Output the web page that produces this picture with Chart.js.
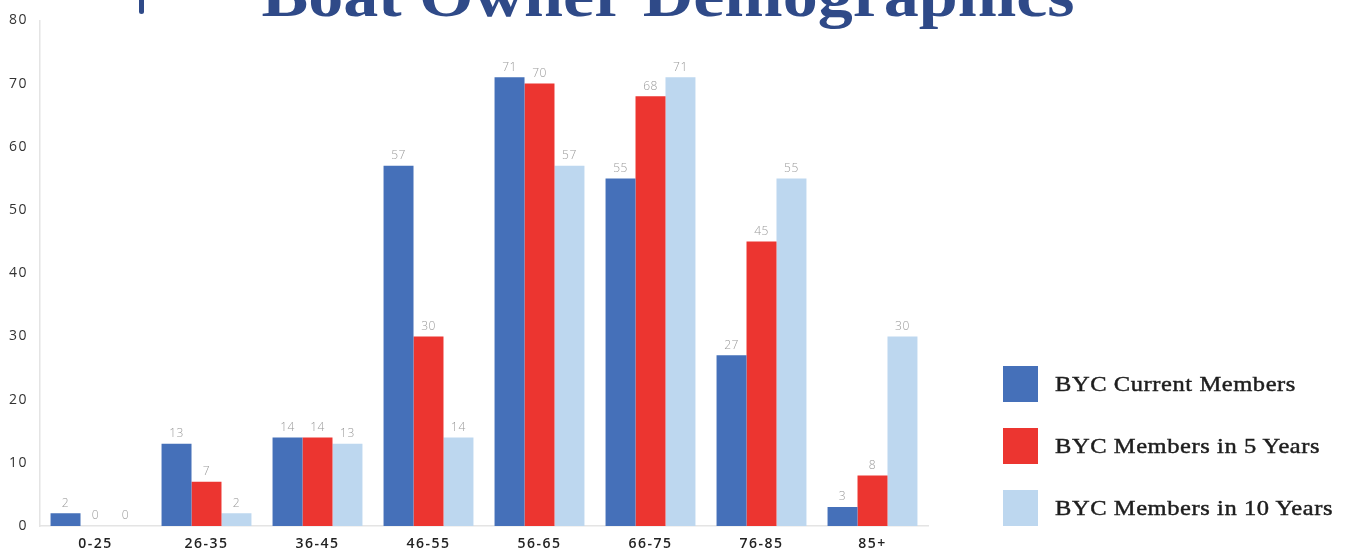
<!DOCTYPE html>
<html>
<head>
<meta charset="utf-8">
<script src="https://cdn.jsdelivr.net/npm/chart.js@4"></script>
<style>
  html, body { margin: 0; padding: 0; background: #fff; }
  #wrap { position: relative; width: 1347px; height: 557px; overflow: hidden; }
  #legend { position: absolute; left: 1003px; top: 366px; margin: 0; padding: 0; list-style: none; }
  #legend li { display: flex; align-items: center; height: 36px; margin-bottom: 26px; }
  #legend .box { width: 35px; height: 36px; margin-right: 17px; flex: none; }
  #legend .txt { display: inline-block; white-space: nowrap; transform-origin: left center;
                 font-family: "Liberation Serif", serif; font-size: 21px; color: #1e1e1e;
                 letter-spacing: 0.5px; -webkit-text-stroke: 0.45px #1e1e1e; }
</style>
</head>
<body>
<div id="wrap">
  <canvas id="chartDemografia" width="1347" height="557"></canvas>
  <ul id="legend"></ul>
</div>
<script>
// Dados
const categorias = ['0-25', '26-35', '36-45', '46-55', '56-65', '66-75', '76-85', '85+'];
const membrosAtuais = [2, 13, 14, 57, 71, 55, 27, 3];
const membros5Anos = [0, 7, 14, 30, 70, 68, 45, 8];
const membros10Anos = [0, 2, 13, 14, 57, 71, 55, 30];
const nomesSeries = ['BYC Current Members', 'BYC Members in 5 Years', 'BYC Members in 10 Years'];
const ticksY = [0, 10, 20, 30, 40, 50, 60, 70, 80];
const titulo = 'Boat Owner Demographics';

const cores = ['#4570b9', '#ec3530', '#bdd7ef'];
const corTitulo = '#2f4a88';

// Título cortado no topo + marca decorativa
const tituloPlugin = {
    id: 'tituloPlugin',
    afterDraw(chart) {
        const ctx = chart.ctx;
        ctx.save();
        ctx.letterSpacing = '0px';
        ctx.fillStyle = corTitulo;
        ctx.font = 'bold 62px "Liberation Serif"';
        ctx.textBaseline = 'alphabetic';
        ctx.textAlign = 'center';
        const w = ctx.measureText(titulo).width;
        const sx = 813 / w;
        ctx.translate(668, 16);
        ctx.scale(sx, 1);
        ctx.fillText(titulo, 0, 0);
        ctx.restore();

        ctx.save();
        ctx.fillStyle = corTitulo;
        ctx.beginPath();
        ctx.roundRect(139, -6, 5, 20, 2.5);
        ctx.fill();
        ctx.restore();
    }
};

// Rótulos de valor acima das barras
const rotulosPlugin = {
    id: 'rotulosPlugin',
    beforeDraw(chart) {
        chart.ctx.letterSpacing = '1.5px';
    },
    beforeDatasetsDraw(chart) {
        chart.ctx.letterSpacing = '0px';
    },
    afterDatasetsDraw(chart) {
        const ctx = chart.ctx;
        ctx.save();
        ctx.letterSpacing = '0.5px';
        ctx.font = '300 12px "Open Sans"';
        ctx.fillStyle = '#9a9a9a';
        ctx.textAlign = 'center';
        ctx.textBaseline = 'bottom';
        chart.data.datasets.forEach((ds, i) => {
            const meta = chart.getDatasetMeta(i);
            meta.data.forEach((bar, j) => {
                ctx.fillText(String(ds.data[j]), bar.x, bar.y - 4);
            });
        });
        ctx.restore();
    }
};

const ctx = document.getElementById('chartDemografia').getContext('2d');

const grafico = new Chart(ctx, {
    type: 'bar',
    data: {
        labels: categorias,
        datasets: [
            { label: nomesSeries[0], data: membrosAtuais, backgroundColor: cores[0] },
            { label: nomesSeries[1], data: membros5Anos, backgroundColor: cores[1] },
            { label: nomesSeries[2], data: membros10Anos, backgroundColor: cores[2] }
        ]
    },
    options: {
        responsive: false,
        animation: false,
        datasets: {
            bar: { barPercentage: 1.0, categoryPercentage: 0.81 }
        },
        layout: {
            padding: { top: 16, right: 419, left: 0, bottom: 0 }
        },
        plugins: {
            legend: { display: false },
            tooltip: { enabled: false }
        },
        scales: {
            y: {
                min: 0,
                max: 80,
                afterFit(scale) { scale.width = 40; },
                afterBuildTicks(scale) { scale.ticks = ticksY.map(v => ({ value: v })); },
                grid: { display: false, drawTicks: false },
                border: { color: '#e4e4e4', width: 1.5 },
                ticks: {
                    padding: 12,
                    color: '#333',
                    font: { family: 'Open Sans', size: 14 }
                }
            },
            x: {
                afterFit(scale) { scale.height = 31; },
                grid: { display: false, drawTicks: false },
                border: { color: '#e4e4e4', width: 1.5 },
                ticks: {
                    padding: 10,
                    color: '#222',
                    font: { family: 'Open Sans', size: 14, weight: '600' }
                }
            }
        }
    },
    plugins: [tituloPlugin, rotulosPlugin]
});

// Legenda em HTML, construída a partir dos datasets
const legenda = document.getElementById('legend');
const textos = [];
grafico.data.datasets.forEach(ds => {
    const li = document.createElement('li');
    const box = document.createElement('span');
    box.className = 'box';
    box.style.background = ds.backgroundColor;
    const txt = document.createElement('span');
    txt.className = 'txt';
    txt.textContent = ds.label;
    li.appendChild(box);
    li.appendChild(txt);
    legenda.appendChild(li);
    textos.push(txt);
});
// largura do último item na referência ~278px
const escala = 278 / textos[2].getBoundingClientRect().width;
textos.forEach(t => { t.style.transform = 'scaleX(' + escala + ')'; });
</script>
</body>
</html>
